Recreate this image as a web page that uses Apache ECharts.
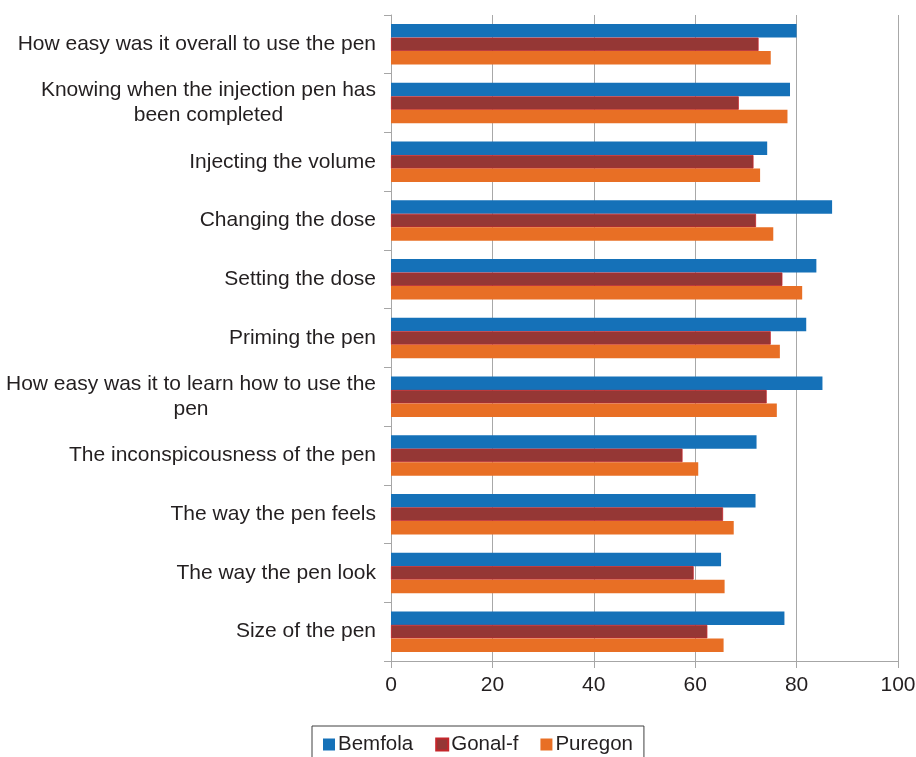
<!DOCTYPE html>
<html>
<head>
<meta charset="utf-8">
<script src="https://cdn.jsdelivr.net/npm/echarts@6/dist/echarts.min.js"></script>
<style>
html,body{margin:0;padding:0;background:#fff;}
#chart{width:916px;height:757px;}
</style>
</head>
<body>
<div id="chart"></div>
<script>
const categories = [
  "How easy was it overall to use the pen",
  "Knowing when the injection pen has\nbeen completed",
  "Injecting the volume",
  "Changing the dose",
  "Setting the dose",
  "Priming the pen",
  "How easy was it to learn how to use the\npen",
  "The inconspicousness of the pen",
  "The way the pen feels",
  "The way the pen look",
  "Size of the pen"
];
const seriesNames = ["Bemfola", "Gonal-f", "Puregon"];
const bemfola = [80, 78.7, 74.2, 87.0, 83.9, 81.9, 85.1, 72.1, 71.9, 65.1, 77.6];
const gonalf  = [72.5, 68.6, 71.5, 72.0, 77.2, 74.9, 74.1, 57.5, 65.5, 59.7, 62.4];
const puregon = [74.9, 78.2, 72.8, 75.4, 81.1, 76.7, 76.1, 60.6, 67.6, 65.8, 65.6];
const xTicks = [0, 20, 40, 60, 80, 100];

const colors = ["#1571B8", "#953735", "#E86F25"];
const font = "'Liberation Sans', Arial, sans-serif";
const txt = '#231f20';

const chart = echarts.init(document.getElementById('chart'), null, {renderer: 'canvas'});
chart.setOption({
  animation: false,
  backgroundColor: '#ffffff',
  grid: {left: 391, right: 18, top: 15, bottom: 96, containLabel: false, outerBoundsMode: 'none'},
  legend: {
    data: seriesNames,
    left: 312,
    top: 726,
    padding: [8, 11, 30, 11],
    itemWidth: 12,
    itemHeight: 12,
    itemGap: 22,
    borderColor: '#404040',
    borderWidth: 1,
    icon: 'rect',
    textStyle: {fontFamily: font, fontSize: 20.5, color: txt, padding: [0, 0, 0, -2]}
  },
  xAxis: {
    type: 'value',
    min: xTicks[0],
    max: xTicks[xTicks.length - 1],
    interval: 20,
    axisLine: {show: true, lineStyle: {color: '#a6a6a6', width: 1}},
    axisTick: {show: true, length: 7, lineStyle: {color: '#a6a6a6'}},
    splitLine: {show: true, lineStyle: {color: '#a8a8a8', width: 1}},
    axisLabel: {fontFamily: font, fontSize: 21, color: txt, margin: 14}
  },
  yAxis: {
    type: 'category',
    inverse: true,
    data: categories,
    axisLine: {show: true, lineStyle: {color: '#a6a6a6', width: 1}},
    axisTick: {show: true, length: 7, alignWithLabel: false, lineStyle: {color: '#a6a6a6'}},
    splitLine: {show: false},
    axisLabel: {
      fontFamily: font, fontSize: 21, color: txt, margin: 15, lineHeight: 25,
      align: 'right',
      formatter: function (v) {
        return v.split('\n').map(function (l) { return '{c|' + l + '}'; }).join('\n');
      },
      rich: {c: {align: 'center', fontFamily: font, fontSize: 21, color: txt, lineHeight: 25}}
    }
  },
  series: [
    {name: seriesNames[0], type: 'bar', data: bemfola, barGap: '0%', barCategoryGap: '31%',
     itemStyle: {color: colors[0]}},
    {name: seriesNames[1], type: 'bar', data: gonalf, barGap: '0%', barCategoryGap: '31%',
     itemStyle: {color: colors[1], borderColor: '#c4262b', borderWidth: 0.8}},
    {name: seriesNames[2], type: 'bar', data: puregon, barGap: '0%', barCategoryGap: '31%',
     itemStyle: {color: colors[2]}}
  ]
});
</script>
</body>
</html>
